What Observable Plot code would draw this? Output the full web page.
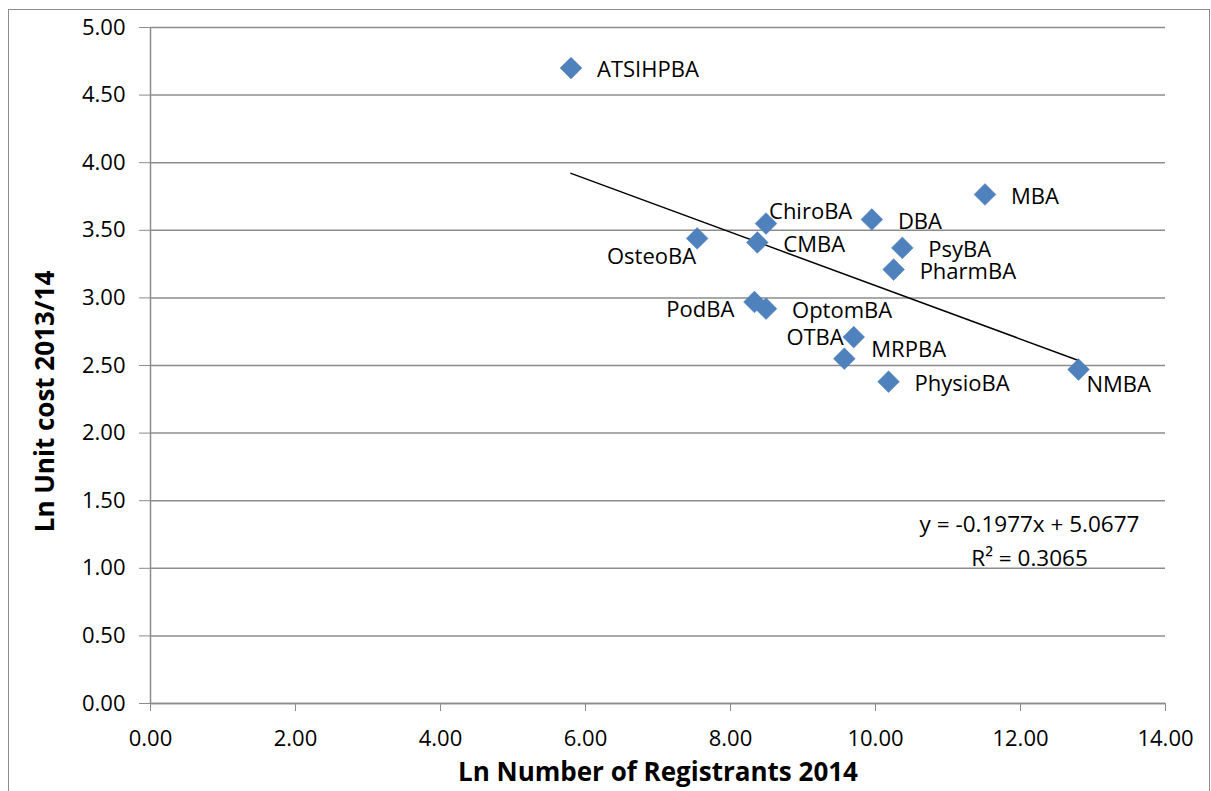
<!DOCTYPE html>
<html>
<head>
<meta charset="utf-8">
<script src="https://cdn.jsdelivr.net/npm/d3@7"></script>
<script src="https://cdn.jsdelivr.net/npm/@observablehq/plot@0.6"></script>
<style>
  html, body { margin: 0; padding: 0; background: #fff; overflow: hidden; }
  #wrap { position: relative; width: 1211px; height: 791px; }
  #frame { position: absolute; left: 8px; top: 9px; width: 1202px; height: 800px; border: 1px solid #8c8c8c; box-sizing: border-box; }
  #chart { position: absolute; left: 0; top: 0; }
</style>
</head>
<body>
<div id="wrap"><div id="frame"></div><div id="chart"></div></div>
<script>
// Data
const boards = ["ATSIHPBA", "OsteoBA", "ChiroBA", "CMBA", "PodBA", "OptomBA", "MBA", "DBA", "PsyBA", "PharmBA", "OTBA", "MRPBA", "PhysioBA", "NMBA"];
const lnRegistrants = [5.80, 7.54, 8.49, 8.37, 8.33, 8.49, 11.51, 9.95, 10.37, 10.25, 9.70, 9.57, 10.18, 12.80];
const lnUnitCost = [4.70, 3.44, 3.55, 3.41, 2.97, 2.92, 3.765, 3.58, 3.37, 3.21, 2.71, 2.55, 2.38, 2.47];
const labelPlacement = ["right", "belowLeft", "aboveRight", "right", "leftLow", "right", "right", "right", "right", "right", "left", "upRight", "right", "belowRight"];
const xTicks = [0, 2, 4, 6, 8, 10, 12, 14];
const yTicks = [0, 0.5, 1, 1.5, 2, 2.5, 3, 3.5, 4, 4.5, 5];
const trendSlope = -0.1977;
const trendIntercept = 5.0677;
const trendR2 = 0.3065;

const points = boards.map((name, i) => ({name, x: lnRegistrants[i], y: lnUnitCost[i], place: labelPlacement[i]}));
const xExtent = d3.extent(lnRegistrants);
const trend = xExtent.map(x => ({x, y: trendSlope * x + trendIntercept}));

const placements = {
  right:      {dx: 26,  dy: 2,   textAnchor: "start"},
  aboveRight: {dx: 3,   dy: -12, textAnchor: "start"},
  belowLeft:  {dx: -1,  dy: 19,  textAnchor: "end"},
  leftLow:    {dx: -20, dy: 8,   textAnchor: "end"},
  left:       {dx: -10, dy: 1,   textAnchor: "end"},
  upRight:    {dx: 27,  dy: -9,  textAnchor: "start"},
  belowRight: {dx: 8,   dy: 15,  textAnchor: "start"}
};

const grid = "#8c8c8c";
const font = "Open Sans";
const fmt = d => d.toFixed(2);

const labelMarks = Object.entries(placements).map(([key, p]) =>
  Plot.text(points.filter(d => d.place === key), {x: "x", y: "y", text: "name", dx: p.dx, dy: p.dy, textAnchor: p.textAnchor, fill: "#000", fontSize: 22})
);

const eqText = `y = ${trendSlope}x + ${trendIntercept}\nR² = ${trendR2}`;

const chart = Plot.plot({
  width: 1211,
  height: 791,
  marginLeft: 150,
  marginRight: 46,
  marginTop: 27,
  marginBottom: 88,
  style: {fontFamily: font, fontSize: "22px", color: "#000", background: "transparent", overflow: "visible"},
  x: {domain: [0, 14]},
  y: {domain: [0, 5]},
  marks: [
    Plot.gridY(yTicks, {stroke: grid, strokeOpacity: 1, strokeWidth: 1.5}),
    Plot.ruleX([0], {stroke: grid, strokeWidth: 1.5}),
    Plot.ruleY([0], {stroke: grid, strokeWidth: 1.5}),
    Plot.axisY(yTicks, {tickSize: 11, tickPadding: 14, tickFormat: fmt, stroke: grid, fill: "#000", label: null, fontSize: 22}),
    Plot.axisX(xTicks, {tickSize: 8, tickPadding: 19, tickFormat: fmt, stroke: grid, fill: "#000", label: null, fontSize: 22}),
    Plot.line(trend, {x: "x", y: "y", stroke: "#000", strokeWidth: 1.5}),
    Plot.dot(points, {x: "x", y: "y", symbol: "diamond2", r: 9.8, fill: "#4f81bd", stroke: "#4f81bd", strokeWidth: 0.5}),
    ...labelMarks,
    Plot.text([eqText], {frameAnchor: "bottom-right", dx: -136, dy: -165, textAnchor: "middle", lineAnchor: "middle", lineHeight: 1.5, fill: "#000", fontSize: 22.5}),
    Plot.text(["Ln Number of Registrants 2014"], {frameAnchor: "bottom", dy: 77, textAnchor: "middle", fontWeight: "bold", fontSize: 26, fill: "#000"}),
    Plot.text(["Ln Unit cost 2013/14"], {frameAnchor: "left", dx: -105, dy: 36, rotate: -90, textAnchor: "middle", fontWeight: "bold", fontSize: 26, fill: "#000"})
  ]
});
document.getElementById("chart").appendChild(chart);
</script>
</body>
</html>
